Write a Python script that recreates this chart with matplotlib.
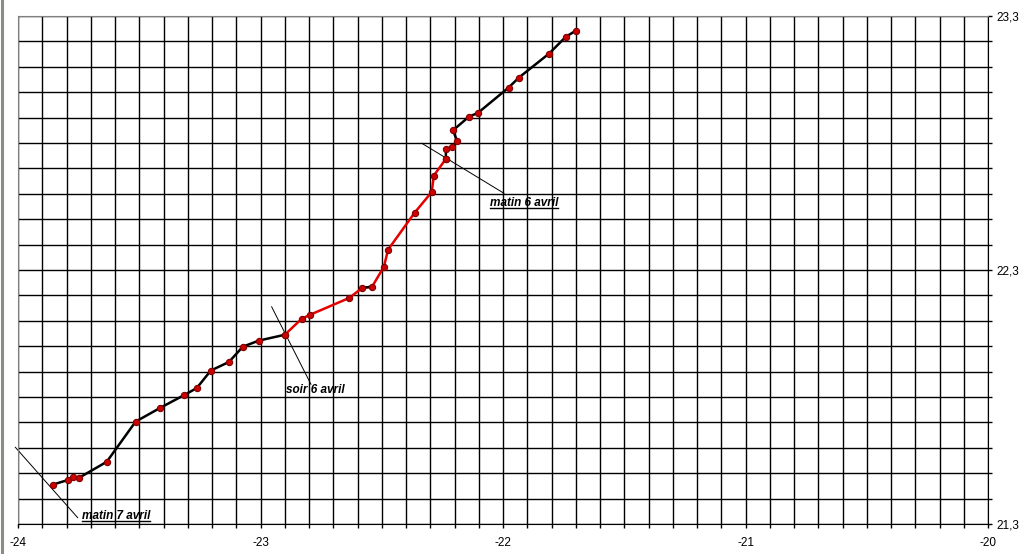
import matplotlib
matplotlib.use("Agg")
import matplotlib.pyplot as plt
import numpy as np
from matplotlib.lines import Line2D

plt.rcParams['font.family'] = ['Liberation Sans', 'DejaVu Sans']
plt.rcParams['axes.unicode_minus'] = False

# Track data (longitude, latitude)
lower_x = [-23.857, -23.795, -23.774, -23.748, -23.634, -23.515, -23.414, -23.314,
           -23.263, -23.205, -23.130, -23.073, -23.007, -22.900]
lower_y = [21.455, 21.473, 21.484, 21.482, 21.545, 21.703, 21.757, 21.808,
           21.835, 21.904, 21.938, 21.998, 22.022, 22.045]
red_x = [-22.900, -22.830, -22.795, -22.634, -22.580, -22.540, -22.491, -22.474,
         -22.364, -22.294, -22.285, -22.236]
red_y = [22.045, 22.108, 22.124, 22.190, 22.230, 22.234, 22.313, 22.380,
         22.526, 22.607, 22.672, 22.737]
upper_x = [-22.236, -22.235, -22.210, -22.190, -22.206, -22.140, -22.104, -21.977,
           -21.935, -21.810, -21.741, -21.700]
upper_y = [22.737, 22.775, 22.785, 22.809, 22.850, 22.904, 22.918, 23.018,
           23.057, 23.152, 23.218, 23.242]

# Annotations: label, leader line (x0, y0, x1, y1), text position, underline
ann_labels = ["matin 7 avril", "soir 6 avril", "matin 6 avril"]
ann_lines = [(-24.011, 21.602, -23.754, 21.325),
             (-22.954, 22.155, -22.792, 21.850),
             (-22.335, 22.799, -21.996, 22.602)]
ann_text_pos = [(-23.738, 21.332), (-22.895, 21.828), (-22.054, 22.564)]
ann_underline = [True, False, True]

x_major = [-24, -23, -22, -21, -20]
x_labels = ["-24", "-23", "-22", "-21", "-20"]
y_major = [21.3, 22.3, 23.3]
y_labels = ["21,3", "22,3", "23,3"]

fig = plt.figure(figsize=(10.24, 5.54), dpi=100)
ax = fig.add_axes([18/1024, 30/554, 970/1024, 508/554])

ax.set_xlim(-24, -20)
ax.set_ylim(21.3, 23.3)

ax.set_xticks(x_major)
ax.set_xticklabels(x_labels)
ax.set_xticks(np.round(np.arange(-24, -20.0001, 0.1), 2), minor=True)
ax.set_yticks(y_major)
ax.set_yticks(np.round(np.arange(21.3, 23.3001, 0.1), 2), minor=True)
ax.yaxis.tick_right()
ax.set_yticklabels(y_labels)

ax.grid(True, which='both', color='black', linewidth=1.0)
ax.set_axisbelow(True)
ax.tick_params(axis='x', which='both', direction='out', length=3, width=1,
               labelsize=8.5, pad=6)
ax.tick_params(axis='y', which='both', direction='out', length=3, width=1,
               labelsize=8.5, pad=3, right=True, left=False)

for s in ['top', 'left']:
    ax.spines[s].set_color('#808080')
for s in ['bottom', 'right']:
    ax.spines[s].set_color('black')

lw = 1.8
ax.plot(lower_x, lower_y, color='black', lw=lw, zorder=3)
ax.plot(red_x, red_y, color='#E60000', lw=lw, zorder=3)
# short black piece inside the red stretch
ax.plot(red_x[4:6], red_y[4:6], color='black', lw=lw, zorder=3.5)
ax.plot(upper_x, upper_y, color='black', lw=lw, zorder=3)

for xs, ys in [(lower_x, lower_y), (red_x, red_y), (upper_x, upper_y)]:
    ax.plot(xs, ys, linestyle='none', marker='o', markersize=4.5,
            markerfacecolor='#CC0000', markeredgecolor='#800000',
            markeredgewidth=0.8, zorder=4)

texts = []
for lab, (x0, y0, x1, y1), (tx, ty) in zip(ann_labels, ann_lines, ann_text_pos):
    ax.add_line(Line2D([x0, x1], [y0, y1], color='black', lw=0.7,
                       clip_on=False, zorder=2.5))
    t = ax.text(tx, ty, lab, fontsize=8.5, fontweight='bold', fontstyle='italic',
                ha='left', va='center', zorder=5)
    texts.append(t)

# left window border
fig.add_artist(Line2D([1.5/1024, 1.5/1024], [0, 1], color='#8c8c80', lw=2.2,
                      transform=fig.transFigure))

fig.canvas.draw()
renderer = fig.canvas.get_renderer()
inv = fig.transFigure.inverted()
for t, ul in zip(texts, ann_underline):
    if not ul:
        continue
    bb = t.get_window_extent(renderer)
    (fx0, fy0) = inv.transform((bb.x0, bb.y0 + 1))
    (fx1, _) = inv.transform((bb.x1, bb.y0 + 1))
    fig.add_artist(Line2D([fx0, fx1], [fy0, fy0], color='black', lw=1.0,
                          transform=fig.transFigure))

fig.savefig("out.png", dpi=100)
